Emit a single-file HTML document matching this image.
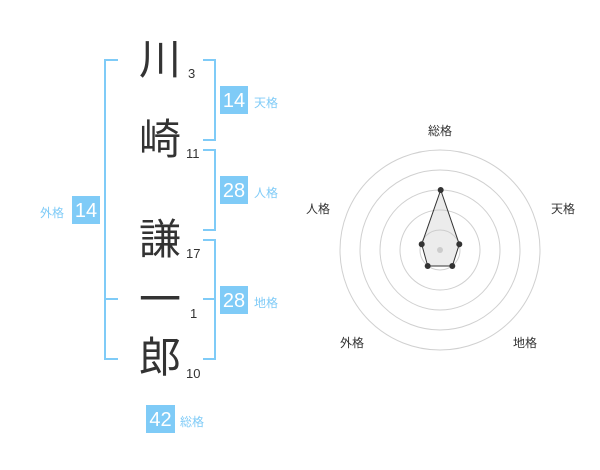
<!DOCTYPE html>
<html><head><meta charset="utf-8"><style>
body{margin:0;width:600px;height:470px;background:#fff;overflow:hidden;font-family:"Liberation Sans","Noto Sans CJK JP",sans-serif}
.a{position:absolute}
.k{position:absolute;font-size:42px;color:#333;width:50px;text-align:center;line-height:50px;left:135px}
.n{position:absolute;font-size:13px;color:#333}
.b{position:absolute;background:#7fcbf7;color:#fff;font-size:20px;width:28px;height:28px;line-height:31px;text-align:center}
.l{position:absolute;color:#7fcbf7;font-size:12px}
</style></head><body>
<svg class="a" style="left:0;top:0" width="600" height="470">
<g stroke="#7fcbf7" stroke-width="2" fill="none">
<path d="M118 60H105V359H118M105 299H118"/>
<path d="M203 60H215V140H203"/>
<path d="M203 150H215V230H203"/>
<path d="M203 240H215V359H203M203 299H215"/>
</g>
<g stroke="#d0d0d0" fill="none">
<circle cx="440" cy="250" r="20"/><circle cx="440" cy="250" r="40"/><circle cx="440" cy="250" r="60"/><circle cx="440" cy="250" r="80"/><circle cx="440" cy="250" r="100"/>
</g>
<polygon points="440.7,190 459.3,244.3 452.3,266 427.7,266 421.7,244.3" fill="rgba(200,200,200,0.35)" stroke="#333" stroke-width="1"/>
<circle cx="440" cy="250" r="3" fill="#ccc"/>
<g fill="#333"><circle cx="440.7" cy="190" r="3"/><circle cx="459.3" cy="244.3" r="3"/><circle cx="452.3" cy="266" r="3"/><circle cx="427.7" cy="266" r="3"/><circle cx="421.7" cy="244.3" r="3"/></g>
<g font-size="12" fill="#333" text-anchor="middle" font-family="Liberation Sans,Noto Sans CJK JP,sans-serif">
<text x="440" y="135">総格</text><text x="563" y="213">天格</text><text x="525" y="347">地格</text><text x="352" y="347">外格</text><text x="318" y="213">人格</text>
</g>
</svg>
<div class="k" style="top:35px">川</div>
<div class="k" style="top:115px">崎</div>
<div class="k" style="top:215px">謙</div>
<div class="k" style="top:275px">一</div>
<div class="k" style="top:333px">郎</div>
<div class="n" style="left:188px;top:66px">3</div>
<div class="n" style="left:186px;top:146px">11</div>
<div class="n" style="left:186px;top:246px">17</div>
<div class="n" style="left:190px;top:306px">1</div>
<div class="n" style="left:186px;top:366px">10</div>
<div class="b" style="left:220px;top:86px">14</div><div class="l" style="left:254px;top:94px">天格</div>
<div class="b" style="left:220px;top:176px">28</div><div class="l" style="left:254px;top:184px">人格</div>
<div class="b" style="left:220px;top:286px">28</div><div class="l" style="left:254px;top:294px">地格</div>
<div class="b" style="left:72px;top:196px">14</div><div class="l" style="left:40px;top:204px">外格</div>
<div class="b" style="left:146px;top:405px;width:29px">42</div><div class="l" style="left:180px;top:413px">総格</div>
</body></html>
